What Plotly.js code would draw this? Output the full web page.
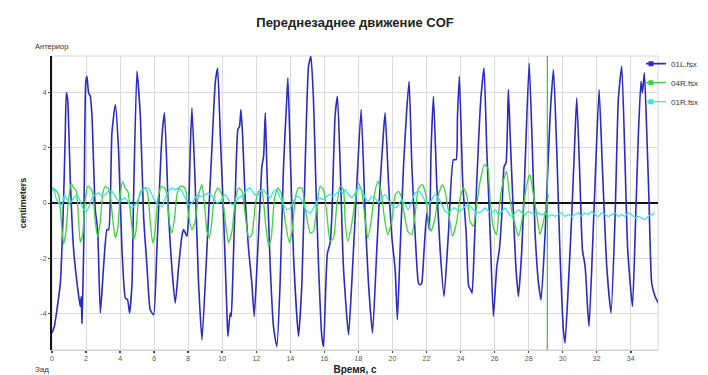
<!DOCTYPE html>
<html>
<head>
<meta charset="utf-8">
<script src="https://cdn.plot.ly/plotly-3.0.1.min.js"></script>
<style>html,body{margin:0;padding:0;background:#fff;}#chart{width:708px;height:375px;}</style>
</head>
<body>
<div id="chart"></div>
<script>
// ---- Data (time in s, COF in cm) ----
const seriesNames = ['01L.fsx', '04R.fsx', '01R.fsx'];

const time01L = [0,0.14,0.29,0.49,0.68,0.78,0.84,0.92,1.08,1.27,1.57,1.66,1.72,1.76,1.86,1.98,2.05,2.15,2.25,2.35,2.54,2.68,2.84,3.03,3.23,3.33,3.52,3.72,3.91,4.11,4.31,4.44,4.56,4.70,4.79,4.99,5.19,5.38,5.58,5.77,5.97,6.16,6.46,6.61,6.85,7.05,7.24,7.44,7.63,7.73,7.93,8.02,8.12,8.22,8.41,8.61,8.81,
9.10,9.39,9.59,9.73,9.88,10.08,10.27,10.33,10.47,10.53,10.61,10.76,10.92,11.02,11.10,11.19,11.35,11.55,11.74,11.88,12.04,12.23,12.33,12.43,12.53,12.62,12.82,13.01,13.21,13.40,13.60,13.80,13.86,13.99,14.19,14.48,14.68,14.87,15.07,15.21,15.36,15.50,15.66,15.85,15.95,16.09,16.18,16.34,16.44,16.63,16.77,16.93,17.12,17.42,
17.61,17.91,18.16,18.40,18.59,18.83,19.08,19.28,19.47,19.57,19.77,19.96,20.16,20.29,20.45,20.65,20.84,20.98,21.14,21.33,21.53,21.63,21.72,21.86,22.02,22.17,22.27,22.41,22.60,22.80,23.03,23.29,23.58,23.74,23.82,23.93,24.13,24.33,24.48,24.60,24.68,24.80,24.95,25.19,25.38,25.54,25.74,25.93,26.13,26.28,26.42,26.56,26.67,26.81,
26.91,27.11,27.25,27.40,27.60,27.79,28.03,28.19,28.38,28.58,28.73,28.97,29.26,29.46,29.65,29.85,30.04,30.14,30.34,30.53,30.73,30.83,31.02,31.16,31.32,31.47,31.55,31.75,31.94,32.14,32.33,32.59,32.84,33.08,33.27,33.47,33.67,33.82,34.10,34.29,34.45,34.60,34.68,34.80,34.94,35.07,35.23,35.43,35.62];
const cof01L = [-4.69,-4.45,-3.85,-2.89,0.12,2.53,3.97,3.73,0.72,-1.68,-3.37,-3.73,-3.37,-4.33,-1.68,4.33,4.57,3.97,3.85,3.13,-0.24,-0.96,-3.97,-2.29,-0.96,-0.96,2.53,3.55,1.93,-1.68,-3.43,-3.49,-3.97,-2.89,0.12,4.75,3.13,-0.48,-2.29,-3.85,-4.03,-1.68,2.41,3.25,-0.48,-2.41,-3.61,-2.29,-1.20,-0.96,-1.20,-0.48,1.93,3.43,0.72,-2.89,-4.93,
-1.68,1.93,4.33,4.87,2.53,-0.48,-3.85,-4.81,-3.97,-4.09,-2.89,0.12,2.65,2.77,3.37,2.53,0.12,-1.68,-2.89,-4.09,-2.29,0.12,1.32,1.68,3.25,1.32,-2.29,-4.45,-5.17,-2.89,1.32,3.85,4.51,1.93,-1.93,-4.81,-2.89,1.32,4.93,5.29,3.73,0.72,-2.29,-4.81,-5.17,-2.89,-1.81,-1.44,-0.48,3.13,3.85,1.32,-2.29,-4.75,
-2.89,0.72,3.37,-0.48,-2.89,-4.69,-1.68,0.72,2.53,3.25,0.72,-1.20,-2.41,-4.21,-1.68,1.32,3.37,4.39,1.32,-1.08,-2.89,-2.95,-2.89,-1.68,-0.36,-0.96,1.93,3.85,0.72,-1.68,-3.37,-1.08,1.56,1.56,3.13,4.57,0.72,-1.08,-3.01,-3.13,-3.25,-1.68,0.72,3.73,4.87,1.93,-1.08,-4.09,-2.29,-1.68,-0.48,1.32,1.44,4.09,
2.53,-0.48,-2.29,-3.37,-1.68,1.32,5.05,2.53,-1.08,-2.89,-3.49,-1.08,3.13,4.81,1.93,-1.93,-4.57,-5.05,-2.89,-0.48,2.53,3.79,0.72,-1.68,-2.29,-3.85,-4.45,-1.68,1.32,4.09,1.32,-2.29,-3.97,-0.48,3.73,4.93,1.32,-1.68,-3.73,-0.48,2.53,4.39,3.97,4.69,2.53,0.12,-2.89,-3.37,-3.61];

const time04R = [0,0.19,0.39,0.55,0.68,0.82,0.98,1.13,1.27,1.41,1.52,1.66,1.80,1.96,2.11,2.25,2.39,2.54,2.68,2.84,2.97,3.13,3.29,3.42,3.58,3.72,3.87,4.01,4.15,4.30,4.46,4.62,4.79,4.93,5.09,5.28,5.48,5.63,5.77,5.91,6.06,6.22,6.42,6.61,6.75,6.89,7.04,7.20,7.34,7.53,7.73,7.87,8.02,8.22,8.41,8.61,
8.81,8.96,9.10,9.24,9.39,9.55,9.75,9.98,10.18,10.37,10.57,10.76,10.96,11.16,11.35,11.55,11.74,11.94,12.13,12.33,12.53,12.72,12.88,13.07,13.27,13.46,13.70,13.95,14.13,14.29,14.48,14.68,14.87,15.17,15.36,15.56,15.75,15.95,16.15,16.34,16.54,16.73,16.93,17.12,
17.22,17.38,17.57,17.81,18.00,18.20,18.36,18.55,18.75,18.94,19.14,19.33,19.53,19.72,19.96,20.16,20.35,20.51,20.70,20.90,21.13,21.33,21.53,21.76,21.96,22.11,22.27,22.50,22.70,22.93,23.09,23.29,23.52,23.78,23.97,24.17,24.36,24.56,24.75,24.95,25.15,25.40,25.60,25.73,25.93,26.12,
26.23,26.42,26.62,26.71,26.85,27.01,27.20,27.40,27.60,27.79,27.99,28.08,28.28,28.48,28.67,28.87,29.06,29.16];
const cof04R = [0.54,0.48,0.30,-0.66,-1.48,-1.02,0.18,0.72,0.54,0.48,-0.18,-1.41,-1.14,0.18,0.60,0.54,0.36,-0.66,-1.20,-0.66,0.30,0.60,0.54,0.30,-0.66,-1.26,-0.90,0.30,0.78,0.54,0.42,-0.42,-1.32,-1.02,0.18,0.48,0.54,0.30,-0.66,-1.44,-1.02,0.18,0.60,0.54,0.30,-0.66,-1.08,-0.54,0.30,0.60,0.60,0.42,-0.42,-0.96,-0.66,0.30,
0.66,-0.06,-1.02,-1.26,-0.66,0.30,0.54,0.30,-0.66,-1.44,-1.02,0.06,0.54,0.42,-0.42,-1.26,-1.14,-0.06,0.42,0.42,-0.66,-1.56,-1.26,0.18,0.54,0.36,-0.66,-1.44,-0.90,0.18,0.54,0.54,-0.18,-1.08,-1.02,-0.06,0.60,0.48,-0.42,-1.38,-1.26,-0.06,0.60,0.48,
-0.66,-1.38,-0.90,0.06,0.72,0.42,-0.42,-1.26,-0.66,0.30,0.78,0.42,-0.54,-1.14,-0.66,0.30,0.42,0.24,-0.42,-1.02,-1.14,-0.42,0.54,0.66,0.30,-0.66,-1.02,-0.54,0.30,0.66,0.42,-0.30,-1.20,-0.66,0.18,0.54,0.30,-0.66,-0.84,-0.06,0.78,1.38,1.26,0.18,-0.90,-1.14,
-0.42,0.54,1.02,1.14,0.42,-0.30,-0.78,-1.20,-0.66,0.30,0.90,1.02,0.30,-0.42,-1.14,-0.66,-0.06,0.30];

const time01R = [0,0.10,0.23,0.39,0.59,0.74,0.88,1.07,1.27,1.47,1.66,1.80,1.99,2.15,2.35,2.54,2.74,2.93,3.13,3.32,3.52,3.72,3.91,4.11,4.30,4.50,4.66,4.90,5.09,5.28,5.48,5.67,5.87,6.06,6.26,6.46,6.65,6.85,7.04,7.24,7.43,7.63,7.83,8.02,8.22,8.41,8.61,
8.71,9.00,9.20,9.49,9.69,9.88,10.18,10.37,10.57,10.76,10.96,11.25,11.45,11.64,11.84,12.04,12.23,12.43,12.62,12.82,13.01,13.21,13.40,13.60,13.80,13.99,14.19,14.38,14.58,14.78,14.97,15.17,15.36,15.56,15.75,15.95,16.15,16.34,16.54,16.73,16.93,17.12,
17.22,17.42,17.61,17.81,18.00,18.20,18.39,18.59,18.79,18.98,19.18,19.37,19.57,19.76,19.96,20.16,20.35,20.55,20.74,20.94,21.13,21.33,21.53,21.72,21.92,22.11,22.31,22.50,22.70,22.90,23.09,23.29,23.48,23.68,23.87,24.07,24.27,24.46,24.66,24.85,25.05,25.24,25.44,25.63,25.83,26.03,
26.23,26.42,26.62,26.81,27.01,27.20,27.40,27.60,27.79,27.99,28.18,28.38,28.57,28.77,28.97,29.16,29.36,29.55,29.75,29.94,30.14,30.34,30.53,30.73,30.92,31.12,31.31,31.51,31.70,31.90,32.10,32.29,32.49,32.68,32.88,33.07,33.27,33.47,33.66,33.86,34.05,34.25,34.45,34.64,34.84,35.03,35.23,35.42];
const cof01R = [0.42,0.54,0.18,0.00,-0.06,0.30,0.12,0.00,0.18,0.30,0.06,-0.18,-0.30,-0.18,0.18,0.30,0.36,0.24,0.30,0.42,0.42,0.24,0.06,0.12,0.18,0.00,-0.18,-0.06,0.18,0.42,0.54,0.54,0.30,0.06,-0.06,-0.12,0.18,0.42,0.54,0.48,0.54,0.42,0.18,-0.06,0.00,0.18,0.30,
0.24,0.30,0.36,0.18,0.00,0.06,0.30,0.12,-0.06,0.00,0.18,0.30,0.48,0.54,0.36,0.24,0.42,0.48,0.30,0.18,0.42,0.48,0.18,-0.06,-0.24,-0.18,0.06,0.24,0.18,-0.06,-0.30,-0.36,-0.18,0.06,0.18,0.12,0.24,0.30,0.24,0.36,0.42,0.36,
0.48,0.30,0.18,0.36,0.54,0.48,0.18,0.06,0.24,0.18,0.00,0.18,0.30,0.12,-0.06,-0.18,-0.06,0.12,-0.06,-0.24,0.06,0.36,0.42,0.30,0.06,-0.06,0.12,0.30,0.18,-0.06,-0.30,-0.36,-0.24,-0.18,-0.30,-0.24,-0.12,-0.06,-0.18,-0.30,-0.36,-0.30,-0.18,-0.30,-0.36,-0.24,
-0.42,-0.30,-0.18,-0.36,-0.48,-0.36,-0.24,-0.36,-0.42,-0.30,-0.36,-0.42,-0.36,-0.42,-0.36,-0.48,-0.42,-0.48,-0.42,-0.36,-0.48,-0.42,-0.48,-0.42,-0.36,-0.48,-0.36,-0.42,-0.30,-0.42,-0.48,-0.36,-0.42,-0.48,-0.42,-0.36,-0.48,-0.42,-0.48,-0.36,-0.42,-0.54,-0.48,-0.54,-0.60,-0.48,-0.42,-0.36];

const cursorTime = 29.1;           // green time cursor
const xTicks = [0,2,4,6,8,10,12,14,16,18,20,22,24,26,28,30,32,34];
const yTicks = [-4,-2,0,2,4];

// ---- Styling ----
const colors = ['#2a2ac4', '#3cd43c', '#38e2e6'];
const FONT = 'Liberation Sans, Arial, Helvetica, sans-serif';

function mkTrace(x, y, i, w) {
  return {
    type: 'scatter', mode: 'lines+markers', name: seriesNames[i], x: x, y: y,
    line: {color: colors[i], width: w, shape: 'spline', smoothing: 0.5},
    marker: {symbol: 'square', size: 5, color: colors[i]},
    selectedpoints: [], unselected: {marker: {opacity: 0}},
    hoverinfo: 'x+y+name'
  };
}

const data = [
  mkTrace(time01L, cof01L, 0, 1.6),
  mkTrace(time04R, cof04R, 1, 1.3),
  mkTrace(time01R, cof01R, 2, 1.3)
];

const layout = {
  width: 708, height: 375,
  margin: {l: 52, r: 50, t: 56, b: 25, pad: 0, autoexpand: false},
  paper_bgcolor: '#ffffff', plot_bgcolor: '#ffffff',
  font: {family: FONT, size: 7, color: '#444'},
  title: {text: 'Переднезаднее движение COF', x: 0.5, xref: 'paper', xanchor: 'center',
          y: 0.941, yref: 'container', yanchor: 'middle',
          font: {family: FONT, size: 13, color: '#222', weight: 'bold'}},
  showlegend: true,
  legend: {xref: 'container', yref: 'container', x: 0.9124, xanchor: 'left', y: 0.869, yanchor: 'top',
           bgcolor: 'rgba(0,0,0,0)',
           font: {family: FONT, size: 8, color: '#334'}, indentation: -15, itemwidth: 30,
           tracegroupgap: 0},
  xaxis: {range: [0, 35.6], tickmode: 'array', tickvals: xTicks, ticktext: xTicks.map(String),
          showgrid: true, gridcolor: '#dadada', gridwidth: 1, zeroline: false,
          showline: true, linecolor: '#d0d0d0', linewidth: 1,
          ticks: 'outside', ticklen: 2, tickwidth: 1.5, tickcolor: '#444',
          tickfont: {family: FONT, size: 7, color: '#555'},
          title: {text: 'Время, с', standoff: 5, font: {family: FONT, size: 10, color: '#222', weight: 'bold'}}},
  yaxis: {range: [-5.3, 5.3], tickmode: 'array', tickvals: yTicks, ticktext: yTicks.map(String),
          showgrid: true, gridcolor: '#dadada', gridwidth: 1,
          zeroline: true, zerolinecolor: '#111', zerolinewidth: 2.5,
          showline: true, linecolor: '#111', linewidth: 2, mirror: false,
          ticks: 'outside', ticklen: 2, tickwidth: 1, tickcolor: '#444',
          tickfont: {family: FONT, size: 7, color: '#555'},
          title: {text: 'centimeters', standoff: 12, font: {family: FONT, size: 9, color: '#222', weight: 'bold'}}},
  shapes: [
    {type: 'rect', xref: 'paper', yref: 'paper', x0: 0, x1: 1, y0: 0, y1: 1,
     line: {color: '#d6d6d6', width: 1}, fillcolor: 'rgba(0,0,0,0)', layer: 'below'},
    {type: 'line', xref: 'x', yref: 'paper', x0: cursorTime, x1: cursorTime, y0: 0, y1: 1,
     line: {color: '#2ecc2e', width: 1.2}, layer: 'above'}
  ],
  annotations: [
    {text: 'Антериор', xref: 'paper', yref: 'paper', x: -0.031, y: 1.034, xanchor: 'left', yanchor: 'middle',
     showarrow: false, font: {family: FONT, size: 7.5, color: '#333'}},
    {text: 'Зад', xref: 'paper', yref: 'paper', x: -0.031, y: -0.0656, xanchor: 'left', yanchor: 'middle',
     showarrow: false, font: {family: FONT, size: 8, color: '#333'}}
  ]
};

Plotly.newPlot('chart', data, layout, {displayModeBar: false, staticPlot: true});
</script>
</body>
</html>
